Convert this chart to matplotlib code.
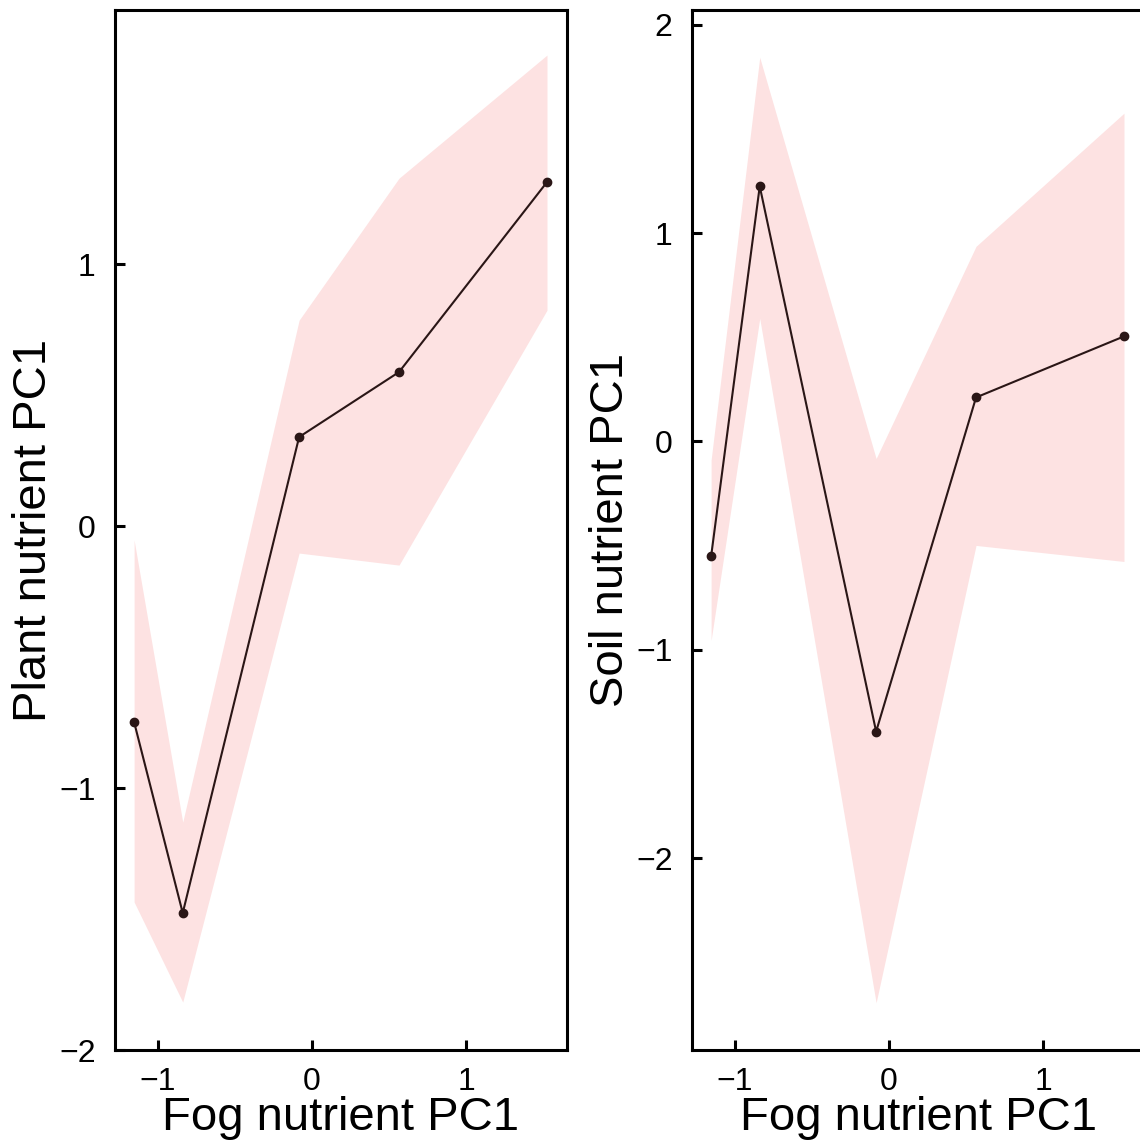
import matplotlib
matplotlib.use("Agg")
import matplotlib.pyplot as plt

plt.rcParams['font.family'] = ['Liberation Sans', 'DejaVu Sans']

# Data
fog_pc1 = [-1.156, -0.840, -0.084, 0.565, 1.526]

plant_fit = [-0.748, -1.477, 0.340, 0.588, 1.313]
plant_upper = [-0.053, -1.13, 0.786, 1.328, 1.798]
plant_lower = [-1.435, -1.817, -0.103, -0.149, 0.824]

soil_fit = [-0.552, 1.224, -1.392, 0.211, 0.504]
soil_upper = [-0.09, 1.843, -0.082, 0.936, 1.575]
soil_lower = [-0.955, 0.59, -2.693, -0.499, -0.576]

x_ticks = [-1, 0, 1]
plant_yticks = [-2, -1, 0, 1]
soil_yticks = [-2, -1, 0, 1, 2]

xlabel = "Fog nutrient PC1"
ylabels = ["Plant nutrient PC1", "Soil nutrient PC1"]

W, H = 1140, 1147
fig = plt.figure(figsize=(W / 100, H / 100), dpi=100)

band_color = '#fde2e2'
line_color = '#2a1616'

def panel(left_px, fit, up, lo, yticks, ylim, ylabel):
    ax = fig.add_axes([left_px / W, (H - 1050) / H, 452 / W, 1040 / H])
    ax.fill_between(fog_pc1, lo, up, color=band_color, linewidth=0, zorder=1)
    ax.plot(fog_pc1, fit, color=line_color, linewidth=1.5, marker='o',
            markersize=6, zorder=3)
    ax.set_xlim(-1.28, 1.656)
    ax.set_ylim(*ylim)
    ax.set_xticks(x_ticks)
    ax.set_yticks(yticks)
    for s in ax.spines.values():
        s.set_linewidth(2.2)
    ax.tick_params(direction='in', length=7, width=2.2, labelsize=23,
                   top=False, right=False)
    ax.tick_params(axis='y', pad=14)
    ax.tick_params(axis='x', pad=12)
    ax.set_xlabel(xlabel, fontsize=34)
    ax.set_ylabel(ylabel, fontsize=34)
    ax.xaxis.label.set_va('center')
    ax.yaxis.label.set_va('center')
    ax.xaxis.set_label_coords(0.5, (1050 - 1118) / 1040)
    ax.yaxis.set_label_coords((34 if left_px < 500 else 611) / 452 - left_px / 452, 0.5)
    return ax

panel(115, plant_fit, plant_upper, plant_lower, plant_yticks, (-2.0, 1.97), ylabels[0])
panel(692, soil_fit, soil_upper, soil_lower, soil_yticks, (-2.92, 2.07), ylabels[1])

fig.savefig("out.png", dpi=100)
